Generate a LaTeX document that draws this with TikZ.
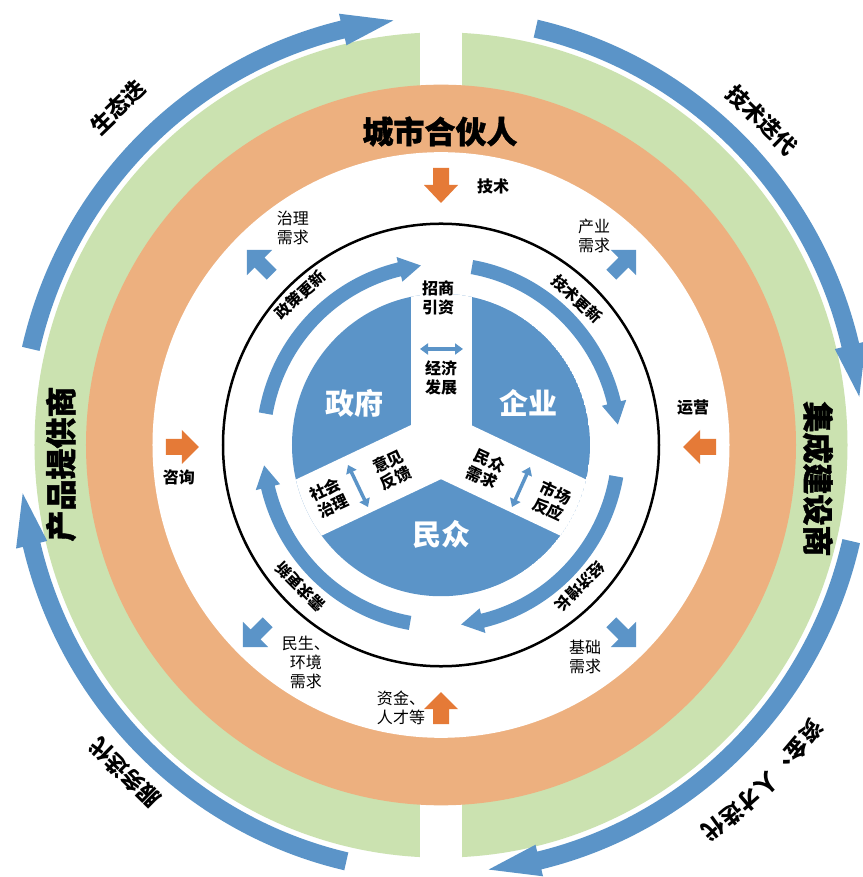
\documentclass[tikz,border=0pt]{standalone}
\usepackage{fontspec}
\newfontfamily\cjk{Noto Sans CJK SC}
\newfontfamily\cjkh{Noto Sans CJK SC}[BoldFeatures={FakeBold=1.2}]
\usetikzlibrary{arrows.meta}
\definecolor{cblue}{RGB}{91,148,200}
\definecolor{cgreen}{RGB}{203,226,176}
\definecolor{cring}{RGB}{237,176,127}
\definecolor{corange}{RGB}{229,122,55}
\newcommand\arcarr[7]{%
  \fill[#7] ({#4}:{#1+#2}) arc[start angle={#4}, end angle={#5}, radius={#1+#2}]
    -- ({#5}:{#1+#3}) -- ({#6}:{#1}) -- ({#5}:{#1-#3}) -- ({#5}:{#1-#2})
    arc[start angle={#5}, end angle={#4}, radius={#1-#2}] -- cycle;}
\newcommand\blockarr[8]{%
  \fill[#8, shift={(#1,#2)}, rotate=#3] (0,0) -- (-#5,#6) -- (-#5,#7) -- (-#4,#7)
    -- (-#4,-#7) -- (-#5,-#7) -- (-#5,-#6) -- cycle;}
\tikzset{
  ring/.style={inner sep=0, font=\cjkh\bfseries\fontsize{31}{31}\selectfont},
  outlbl/.style={inner sep=0, font=\cjk\bfseries\fontsize{22}{22}\selectfont},
  arclbl/.style={inner sep=0, font=\cjk\bfseries\fontsize{15.5}{15.5}\selectfont},
  blbl/.style={inner sep=0, align=center, font=\cjk\bfseries\fontsize{16}{18.5}\selectfont},
  lbl/.style={inner sep=0, align=center, font=\cjk\fontsize{16}{19}\selectfont},
  big/.style={inner sep=0, text=white, font=\cjk\bfseries\fontsize{29}{29}\selectfont},
  dbl/.style={cblue, line width=3.5pt, {Triangle[width=11pt,length=8pt]}-{Triangle[width=11pt,length=8pt]}},
}
\begin{document}
\begin{tikzpicture}[x=1pt,y=1pt]
\fill[white] (-441,-432) rectangle (421,445);
\useasboundingbox (-441,-432) rectangle (421,445);
\begin{scope}[yscale=1.015]
  \fill[cgreen] (0,0) circle[radius=406.5];
  \fill[white] (-21,-420) rectangle (21,420);
  \fill[cring] (0,0) circle[radius=355];
  \fill[white] (0,0) circle[radius=288.5];
  \draw[line width=2.5pt] (0,0) circle[radius=218];
  \begin{scope}
    \clip (0,0) circle[radius=149];
    \fill[cblue] (0,0) circle[radius=149];
    \fill[white] (-30.5,0) rectangle (30.5,160);
    \fill[white, rotate=205] (0,-30.5) rectangle (160,30.5);
    \fill[white, rotate=335] (0,-30.5) rectangle (160,30.5);
  \end{scope}
  \foreach \k in {0,1,2,3} {
    \arcarr{421}{9}{16}{167-90*\k}{103.5-90*\k}{96.5-90*\k}{cblue}
    \arcarr{178}{7}{12.5}{170-90*\k}{103.5-90*\k}{96.5-90*\k}{cblue}
  }
  \foreach \c [count=\i from 0] in {资,金,、,人,才,迭,代} {
    \node[outlbl, rotate={-127.3-2.82*\i}] (c\i) at ({-37.3-2.82*\i}:466) {\c};
  }
\end{scope}
% ring titles
\node[ring] (t1) at (-1,313.5) {城市合伙人};
\node[ring, rotate=-90] (t2) at (377,-34) {集成建设商};
\node[ring, rotate=90] (t3) at (-380,-19) {产品提供商};
% outer arc labels
\node[outlbl, rotate=44] (o1) at (-323,338) {生态迭};
\node[outlbl, rotate=-44.6] (o2) at (321,325) {技术迭代};
\node[outlbl, rotate=135.6] (o4) at (-316,-328) {服务迭代};
% inner arc labels
\node[arclbl, rotate=43] (a1) at (-141,150) {政策更新};
\node[arclbl, rotate=-43] (a2) at (136,146) {技术更新};
\node[arclbl, rotate=-135] (a3) at (139,-142) {经济增长};
\node[arclbl, rotate=135] (a4) at (-141,-142) {需求更新};
% orange arrows
\blockarr{0}{242}{-90}{35}{18}{17}{8}{corange}
\blockarr{0}{-247}{90}{32}{17}{17}{8}{corange}
\blockarr{-242}{-2}{0}{33}{17}{17}{8}{corange}
\blockarr{242}{-2}{180}{33}{17}{17}{8}{corange}
% blue diagonal arrows
\blockarr{-194}{195}{135}{35}{17.7}{17.7}{7}{cblue}
\blockarr{195}{195}{45}{35}{17.7}{17.7}{7}{cblue}
\blockarr{195}{-202}{-45}{35}{17.7}{17.7}{7}{cblue}
\blockarr{-198}{-202}{-135}{35}{17.7}{17.7}{7}{cblue}
% labels
\node[blbl] (l1) at (52,259) {技术};
\node[blbl] (l2) at (252,37) {运营};
\node[blbl] (l3) at (-262,-32) {咨询};
\node[lbl, align=left] (l4) at (-40,-263) {资金、\\人才等};
\node[lbl] (l5) at (-148,217) {治理\\需求};
\node[lbl] (l6) at (153,209) {产业\\需求};
\node[lbl] (l7) at (144,-212) {基础\\需求};
\node[lbl] (l8) at (-135,-217) {民生、\\环境\\需求};
% inner
\node[blbl] (i1) at (-3,147) {招商\\引资};
\node[blbl] (i2) at (0,67) {经济\\发展};
\coordinate (d1a) at (-21,96); \coordinate (d1b) at (22,96);
\draw[dbl] (d1a) -- (d1b);
\node[big] (g1) at (-86,42) {政府};
\node[big] (g2) at (87,42) {企业};
\node[big] (g3) at (0,-89) {民众};
\node[blbl, rotate=25] (i3) at (-49,-25) {意见\\反馈};
\node[blbl, rotate=25] (i4) at (-112,-53) {社会\\治理};
\coordinate (d2a) at (-93,-20); \coordinate (d2b) at (-73,-62);
\draw[dbl] (d2a) -- (d2b);
\node[blbl, rotate=-25] (i5) at (45,-24) {民众\\需求};
\node[blbl, rotate=-25] (i6) at (111,-56) {市场\\反应};
\coordinate (d3a) at (89,-22); \coordinate (d3b) at (71,-62);
\draw[dbl] (d3a) -- (d3b);
\end{tikzpicture}
\end{document}
